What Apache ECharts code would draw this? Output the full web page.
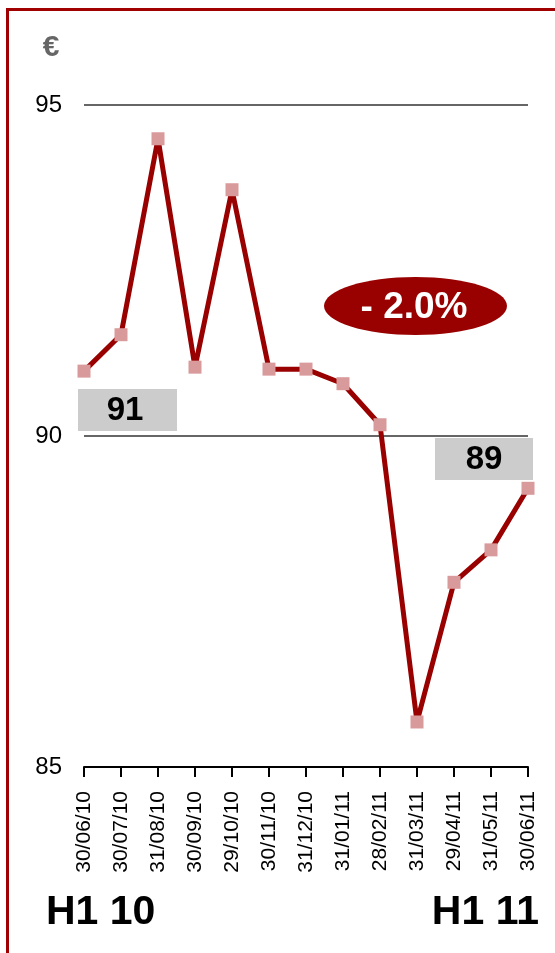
<!DOCTYPE html>
<html>
<head>
<meta charset="utf-8">
<script src="https://cdn.jsdelivr.net/npm/echarts@6/dist/echarts.min.js"></script>
<style>
  html, body { margin: 0; padding: 0; background: #fff; }
  #chart { width: 555px; height: 953px; }
</style>
</head>
<body>
<div id="chart"></div>
<script>
// Month-end share price, H1 2010 to H1 2011 (EUR)
const dates = ['30/06/10', '30/07/10', '31/08/10', '30/09/10', '29/10/10', '30/11/10',
  '31/12/10', '31/01/11', '28/02/11', '31/03/11', '29/04/11', '31/05/11', '30/06/11'];
const prices = [90.98, 91.53, 94.49, 91.04, 93.72, 91.01, 91.01, 90.79, 90.17, 85.68, 87.79, 88.28, 89.21];
const yTicks = [85, 90, 95];
const startLabel = '91';
const endLabel = '89';
const changeLabel = '- 2.0%';

const FONT = '"Liberation Sans", Arial, Helvetica, sans-serif';
const RED = '#990000';

const chart = echarts.init(document.getElementById('chart'), null, { renderer: 'canvas' });

chart.setOption({
  animation: false,
  backgroundColor: '#ffffff',
  grid: { left: 84, right: 27, top: 105, bottom: 186, containLabel: false },
  xAxis: {
    type: 'category',
    data: dates,
    boundaryGap: false,
    axisLine: { lineStyle: { color: '#000', width: 2 } },
    axisTick: { show: true, length: 10, lineStyle: { color: '#000', width: 2 } },
    axisLabel: {
      rotate: 90, margin: 24, color: '#000',
      fontFamily: FONT, fontSize: 21
    }
  },
  yAxis: {
    type: 'value',
    min: yTicks[0], max: yTicks[yTicks.length - 1], interval: 5,
    axisLine: { show: false },
    axisTick: { show: false },
    axisLabel: { margin: 22, color: '#000', fontFamily: FONT, fontSize: 24 },
    splitLine: { show: true, lineStyle: { color: '#333', width: 1.5 } }
  },
  series: [{
    type: 'line',
    data: prices,
    symbol: 'rect',
    symbolSize: 13,
    lineStyle: { color: RED, width: 5 },
    itemStyle: { color: '#d99a9c' },
    z: 5
  }],
  graphic: [
    // frame
    { type: 'rect', shape: { x: 6, y: 8, width: 3, height: 960 }, style: { fill: '#a00000' } },
    { type: 'rect', shape: { x: 6, y: 8, width: 560, height: 3 }, style: { fill: '#a00000' } },
    // currency unit
    { type: 'text', x: 51, y: 48,
      style: { text: '€', fill: '#666', font: 'bold 30px ' + FONT, align: 'center', verticalAlign: 'middle' } },
    // start value box
    { type: 'group', left: 78, top: 389, children: [
      { type: 'rect', shape: { x: 0, y: 0, width: 99, height: 42 }, style: { fill: '#cccccc' } },
      { type: 'text', x: 47, y: 22,
        style: { text: startLabel, fill: '#000', font: 'bold 33px ' + FONT, align: 'center', verticalAlign: 'middle' } }
    ] },
    // end value box
    { type: 'group', left: 435, top: 438, children: [
      { type: 'rect', shape: { x: 0, y: 0, width: 98, height: 42 }, style: { fill: '#cccccc' } },
      { type: 'text', x: 49, y: 22,
        style: { text: endLabel, fill: '#000', font: 'bold 33px ' + FONT, align: 'center', verticalAlign: 'middle' } }
    ] },
    // change badge
    { type: 'ellipse', shape: { cx: 415.5, cy: 306, rx: 91.5, ry: 29 }, style: { fill: RED }, z: 10 },
    { type: 'text', x: 414, y: 308, z: 11,
      style: { text: changeLabel, fill: '#fff', font: 'bold 37px ' + FONT, align: 'center', verticalAlign: 'middle' } },
    // period labels
    { type: 'text', x: 46, y: 913,
      style: { text: 'H1 10', fill: '#000', font: 'bold 41px ' + FONT, align: 'left', verticalAlign: 'middle' } },
    { type: 'text', x: 539, y: 913,
      style: { text: 'H1 11', fill: '#000', font: 'bold 41px ' + FONT, align: 'right', verticalAlign: 'middle' } }
  ]
});
</script>
</body>
</html>
